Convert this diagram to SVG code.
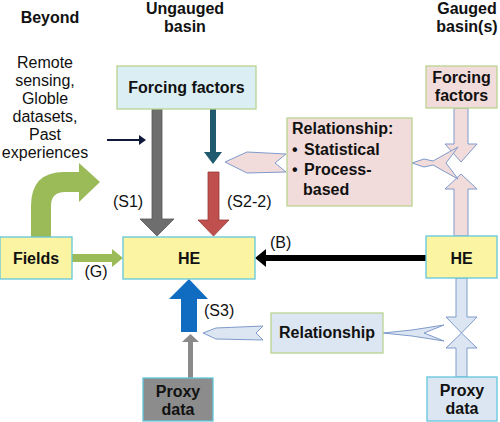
<svg xmlns="http://www.w3.org/2000/svg" width="500" height="422" viewBox="0 0 500 422">
<style>
text{font-family:"Liberation Sans",Arial,sans-serif;fill:#111}
.b{font-weight:bold;font-size:16px}
.n{font-size:16px}
.c{text-anchor:middle}
.yel{fill:#fbf4a2;stroke:#63c6dc;stroke-width:1.3}
.lb{fill:#dbeef4;stroke:#b9d58f;stroke-width:1.3}
.pk{fill:#f2dcdb;stroke:#b9d58f;stroke-width:1.3}
.lb2{fill:#dce6f2;stroke:#b9d58f;stroke-width:1.3}
.pka{fill:#f2dcdb;stroke:#7f9acb;stroke-width:1}
.bla{fill:#dce6f2;stroke:#7f9acb;stroke-width:1}
</style>
<rect width="500" height="422" fill="#fff"/>
<g id="titles">
<text class="b c" x="50" y="23">Beyond</text>
<text class="b c" x="185" y="14">Ungauged</text>
<text class="b c" x="185" y="32">basin</text>
<text class="b c" x="467" y="14">Gauged</text>
<text class="b c" x="467" y="32">basin(s)</text>
</g>
<g id="beyond-sources">
<text class="n c" x="45" y="68">Remote</text>
<text class="n c" x="45" y="86">sensing,</text>
<text class="n c" x="45" y="104">Globle</text>
<text class="n c" x="45" y="122">datasets,</text>
<text class="n c" x="45" y="140">Past</text>
<text class="n c" x="45" y="158">experiences</text>
</g>
<g id="connectors">
<!-- curved green arrow from Fields -->
<path d="M31,237 L31,206 Q31,172 64,172 L79,172 L79,163 L100,182 L79,202 L79,192 L65,192 Q51,192 51,206 L51,237 Z" fill="#9bbb59"/>
<!-- Fields -> HE (G) -->
<path d="M72,254 L112,254 L112,249 L123,258 L112,267 L112,262 L72,262 Z" fill="#9bbb59"/>
<!-- S1 gray arrow -->
<path d="M152,109 L162,109 L162,219 L174,219 L157,236 L140,219 L152,219 Z" fill="#6e6e6e" stroke="#555" stroke-width="0.8"/>
<!-- teal arrow -->
<path d="M210,109 L216,109 L216,152 L222,152 L213,164 L204,152 L210,152 Z" fill="#215a6e"/>
<!-- red S2-2 arrow -->
<path d="M208,172 L219,172 L219,220 L229,220 L213.5,236 L198,220 L208,220 Z" fill="#c0504d" stroke="#9a3a37" stroke-width="0.8"/>
<!-- navy thin arrow -->
<line x1="107" y1="140" x2="140" y2="140" stroke="#0f1a3a" stroke-width="2.2"/>
<path d="M139,135 L146,140 L139,145 Z" fill="#0f1a3a"/>
<!-- pink relationship pointer (ungauged) -->
<path class="pka" d="M225,162 L247,152 L286,154 L275,163 L286,172 L247,173 Z"/>
<!-- gauged forcing down arrow -->
<path class="pka" d="M454,108 L468,108 L468,144 L477,144 L461,162 L445,144 L454,144 Z"/>
<!-- gauged HE up arrow -->
<path class="pka" d="M454,236 L468,236 L468,189 L477,189 L461,174 L445,189 L454,189 Z"/>
<!-- pink forked connector to relationship box -->
<path class="pka" d="M412,163 L424,159 L433,161 L458,147 L446,163 L458,179 L433,165 L424,167 Z"/>
<!-- HE gauged -> HE ungauged (B) -->
<rect x="262" y="255" width="164" height="6" fill="#000"/>
<path d="M266,249 L255,258 L266,267 Z" fill="#000"/>
<!-- lower gauged down arrow -->
<path class="bla" d="M456,278 L467,278 L467,317 L477,317 L461.5,333 L446,317 L456,317 Z"/>
<!-- lower gauged up arrow -->
<path class="bla" d="M456,377 L467,377 L467,348 L477,348 L461.5,333 L446,348 L456,348 Z"/>
<!-- lower right forked connector -->
<path class="bla" d="M383,333 L412,330 L444,325 L424,333 L444,341 L412,336 Z"/>
<!-- lower left pointer -->
<path class="bla" d="M203,333 L216,328 L263,326 L256,333 L263,340 L216,339 Z"/>
<!-- S3 blue arrow -->
<path d="M181,332 L197,332 L197,299 L208,299 L189,279 L169,299 L181,299 Z" fill="#0f6cc0"/>
<!-- gray proxy arrow -->
<path d="M188,378 L193,378 L193,342 L199,342 L190.5,334 L182,342 L188,342 Z" fill="#8a8a8a"/>
<text class="n c" x="96" y="277">(G)</text>
<text class="n c" x="128" y="207">(S1)</text>
<text class="n" x="227" y="207">(S2-2)</text>
<text class="n" x="270" y="248">(B)</text>
<text class="n" x="204" y="316">(S3)</text>
</g>
<g id="forcing-ungauged">
<rect class="lb" x="117" y="66" width="139" height="43"/>
<text class="b c" x="186.5" y="93">Forcing factors</text>
</g>
<g id="forcing-gauged">
<rect class="pk" x="426" y="66" width="71" height="42"/>
<text class="b c" x="461.5" y="83">Forcing</text>
<text class="b c" x="461.5" y="101">factors</text>
</g>
<g id="relationship-upper">
<rect class="pk" x="287" y="118" width="125" height="88"/>
<text class="b" x="292" y="134">Relationship:</text>
<text class="b" x="292" y="154.5">•</text>
<text class="b" x="304" y="154.5">Statistical</text>
<text class="b" x="292" y="175">•</text>
<text class="b" x="304" y="175">Process-</text>
<text class="b" x="303" y="194.5">based</text>
</g>
<g id="fields">
<rect class="yel" x="0" y="237" width="72" height="42"/>
<text class="b c" x="36" y="264">Fields</text>
</g>
<g id="he-ungauged">
<rect class="yel" x="123" y="237" width="132" height="42"/>
<text class="b c" x="189" y="264">HE</text>
</g>
<g id="he-gauged">
<rect class="yel" x="426" y="236" width="71" height="42"/>
<text class="b c" x="461.5" y="263.5">HE</text>
</g>
<g id="relationship-lower">
<rect class="lb2" x="271" y="313" width="112" height="40"/>
<text class="b c" x="327" y="338">Relationship</text>
</g>
<g id="proxy-ungauged">
<rect x="143" y="378" width="70" height="43" fill="#8c8c8c" stroke="#63c6dc" stroke-width="1.3"/>
<text class="b c" x="178" y="397">Proxy</text>
<text class="b c" x="178" y="415">data</text>
</g>
<g id="proxy-gauged">
<rect x="427" y="377" width="70" height="44" fill="#dce6f2" stroke="#63c6dc" stroke-width="1.3"/>
<text class="b c" x="462" y="396">Proxy</text>
<text class="b c" x="462" y="414">data</text>
</g>
</svg>
